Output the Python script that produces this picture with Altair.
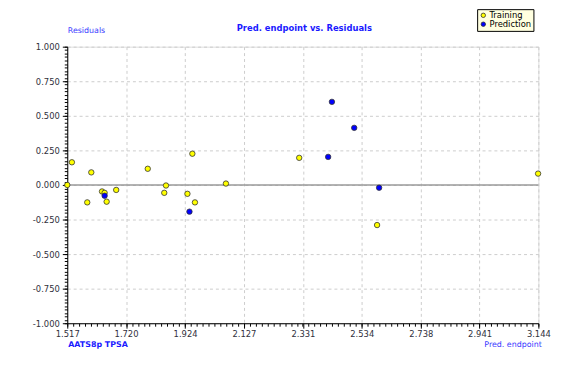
import altair as alt
import pandas as pd

# Training set
train_x = [1.517, 1.533, 1.600, 1.586, 1.637, 1.646, 1.653, 1.686, 1.795, 1.858,
           1.852, 1.932, 1.949, 1.958, 2.065, 2.318, 2.587, 3.143]
train_y = [0.000, 0.164, 0.091, -0.126, -0.047, -0.057, -0.121, -0.036, 0.117, -0.004,
           -0.057, -0.064, 0.226, -0.126, 0.010, 0.196, -0.290, 0.082]
# Prediction set
pred_x = [1.646, 1.939, 2.431, 2.508, 2.418, 2.594]
pred_y = [-0.078, -0.193, 0.601, 0.413, 0.203, -0.020]

series_names = ["Training", "Prediction"]
series_colors = ["#ffff00", "#0000ff"]

x_ticks = [1.517, 1.720, 1.924, 2.127, 2.331, 2.534, 2.738, 2.941, 3.144]
y_ticks = [-1.0, -0.75, -0.5, -0.25, 0.0, 0.25, 0.5, 0.75, 1.0]
x_minor = [round(1.517 + i * (3.144 - 1.517) / 80, 5) for i in range(81)]
y_minor = [round(-1.0 + i * 0.025, 4) for i in range(81)]

df = pd.DataFrame({
    "x": train_x + pred_x,
    "y": train_y + pred_y,
    "set": ["Training"] * len(train_x) + ["Prediction"] * len(pred_x),
})

FONT = "DejaVu Sans"
LBL = "#30303c"
xscale = alt.Scale(domain=[1.517, 3.144], nice=False, zero=False)
yscale = alt.Scale(domain=[-1.0, 1.0], nice=False, zero=False)
lab = "replace(format(datum.value, '.3f'), '\u2212', '-')"

zero = alt.Chart(pd.DataFrame({"z": [0]})).mark_rule(color="#9a9a9a", strokeWidth=1.5).encode(
    y=alt.Y("z:Q", scale=yscale, axis=None)
)

minor = alt.Chart(df).mark_point(opacity=0).encode(
    x=alt.X("x:Q", scale=xscale, axis=alt.Axis(
        orient="bottom", values=x_minor, labels=False, grid=False, domain=False,
        tickSize=3, tickColor="#000", title=None)),
    y=alt.Y("y:Q", scale=yscale, axis=alt.Axis(
        orient="left", values=y_minor, labels=False, grid=False, domain=False,
        tickSize=3, tickColor="#000", title=None)),
)

points = alt.Chart(df).mark_point(
    shape="circle", filled=True, size=30, stroke="#333333", strokeWidth=0.8, opacity=1
).encode(
    x=alt.X("x:Q", scale=xscale, axis=alt.Axis(
        orient="bottom", values=x_ticks, labelExpr=lab, grid=True, gridColor="#cccccc",
        gridDash=[3, 3], domainColor="#000", tickColor="#000", tickSize=5,
        labelFlush=False, labelOverlap=False,
        labelFont=FONT, labelFontSize=8.5, labelColor=LBL, labelPadding=1,
        title="Pred. endpoint", titleFont=FONT, titleFontSize=8, titleFontWeight="normal",
        titleColor="#3a3aff", titleAlign="right", titleAnchor=None, titleX=480, titleY=22,
        titleBaseline="middle")),
    y=alt.Y("y:Q", scale=yscale, axis=alt.Axis(
        orient="left", values=y_ticks, labelExpr=lab, grid=True, gridColor="#cccccc",
        gridDash=[3, 3], domainColor="#000", tickColor="#000", tickSize=5,
        labelFlush=False, labelOverlap=False,
        labelFont=FONT, labelFontSize=8.5, labelColor=LBL, labelPadding=3,
        title="Residuals", titleFont=FONT, titleFontSize=8, titleFontWeight="normal",
        titleColor="#3a3aff", titleAngle=0, titleAlign="left", titleX=0, titleY=-16,
        titleBaseline="middle")),
    fill=alt.Fill("set:N", scale=alt.Scale(domain=series_names, range=series_colors),
                  legend=alt.Legend(
                      title=None, orient="none", legendX=415, legendY=-38,
                      fillColor="#ffffe0", strokeColor="#000", padding=2,
                      labelFont=FONT, labelFontSize=8.5, labelColor="#000",
                      symbolType="circle", symbolSize=20, symbolStrokeColor="#333333",
                      symbolStrokeWidth=0.8, rowPadding=0, labelOffset=2,
                      symbolOffset=0)),
)

texts = pd.DataFrame({"t": ["Pred. endpoint vs. Residuals"]})
title = alt.Chart(texts).mark_text(
    align="center", baseline="middle", font=FONT, fontSize=8.5, fontWeight="bold",
    color="#1a1aff"
).encode(text="t:N", x=alt.value(240), y=alt.value(-19))

note = alt.Chart(pd.DataFrame({"t": ["AATS8p  TPSA"]})).mark_text(
    align="left", baseline="middle", font=FONT, fontSize=8, fontWeight="bold",
    color="#1a1aff"
).encode(text="t:N", x=alt.value(1), y=alt.value(302))

chart = alt.layer(zero, minor, points, title, note).resolve_axis(
    x="independent", y="independent"
).properties(
    width=477, height=280,
    autosize=alt.AutoSizeParams(type="none"),
    padding={"left": 60, "top": 37, "right": 30, "bottom": 30},
).configure_view(stroke=None).configure(background="white")

chart.save("out.html", embed_options={"renderer": "svg", "actions": False})
